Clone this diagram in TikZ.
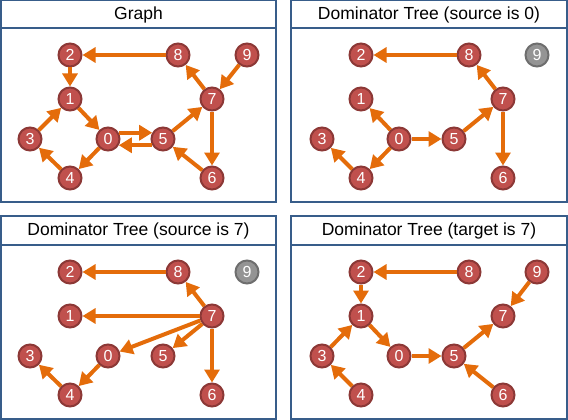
\documentclass[tikz,border=0pt]{standalone}
\usepackage{fontspec}
\setmainfont{Liberation Sans}
\usepackage{tikz}
\usetikzlibrary{arrows.meta}
\definecolor{framec}{RGB}{56,93,138}
\definecolor{vfill}{RGB}{192,80,77}
\definecolor{vline}{RGB}{140,56,54}
\definecolor{arrc}{RGB}{228,108,10}

\begin{document}
\begin{tikzpicture}[x=1pt,y=-1pt,
    vtx/.style={circle,draw=vline,fill=vfill,line width=2pt,minimum size=23pt,inner sep=0pt,
      text=white,font=\fontsize{16}{16}\selectfont},
    off/.style={vtx,draw={rgb,255:red,110;green,110;blue,110},fill={rgb,255:red,148;green,148;blue,148}},
    arr/.style={draw=arrc,line width=4pt,-{Triangle[length=13pt,width=15pt]}},
    headbox/.style={draw=framec,line width=2pt},
    bodybox/.style={draw=framec,line width=1.2pt},
    caption/.style={font=\fontsize{17.5}{20}\selectfont}]
  \useasboundingbox (0,0) rectangle (568,420);

  % Graph
  \begin{scope}
    \draw[bodybox] (1,28) rectangle (276,202);
    \draw[headbox] (1,0.5) rectangle (276,28);
    \node[caption] (ta) at (138.5,14.5) {Graph};
    \foreach \n/\x/\y in {0/108/139,1/70/99,2/70/55,3/30/139,4/70/178,5/163/139,6/212/178,7/212/99,8/178/55,9/247/55}
      \node[vtx] (a\n) at (\x,\y) {\n};
    \draw[arr] (a8) -- (a2); \draw[arr] (a2) -- (a1); \draw[arr] (a1) -- (a0);
    \draw[arr] (a3) -- (a1); \draw[arr] (a4) -- (a3); \draw[arr] (a0) -- (a4);
    \draw[arr] (a0.30) -- (a5.150); \draw[arr] (a5.210) -- (a0.330);
    \draw[arr] (a5) -- (a7); \draw[arr] (a7) -- (a8); \draw[arr] (a9) -- (a7);
    \draw[arr] (a7) -- (a6); \draw[arr] (a6) -- (a5);
  \end{scope}

  % source is 0
  \begin{scope}[shift={(291,0)}]
    \draw[bodybox] (0,28) rectangle (276,202);
    \draw[headbox] (0,0.5) rectangle (276,28);
    \node[caption] (tb) at (138,14.5) {Dominator Tree (source is 0)};
    \foreach \n/\x/\y in {0/108/139,1/70/99,2/70/55,3/31/139,4/70/178,5/163/139,6/212/178,7/212/99,8/178/55}
      \node[vtx] (b\n) at (\x,\y) {\n};
    \node[off] (b9) at (246,55) {9};
    \draw[arr] (b8) -- (b2); \draw[arr] (b7) -- (b8); \draw[arr] (b0) -- (b1);
    \draw[arr] (b0) -- (b5); \draw[arr] (b0) -- (b4); \draw[arr] (b4) -- (b3);
    \draw[arr] (b5) -- (b7); \draw[arr] (b7) -- (b6);
  \end{scope}

  % source is 7
  \begin{scope}[shift={(0,217)}]
    \draw[bodybox] (1,28) rectangle (276,202);
    \draw[headbox] (1,-1) rectangle (276,28);
    \node[caption] (tc) at (138.5,13.5) {Dominator Tree (source is 7)};
    \foreach \n/\x/\y in {0/108/139,1/70/99,2/70/55,3/30/139,4/70/178,5/163/139,6/212/178,7/212/99,8/178/55}
      \node[vtx] (c\n) at (\x,\y) {\n};
    \node[off] (c9) at (247,55) {9};
    \draw[arr] (c8) -- (c2); \draw[arr] (c7) -- (c8); \draw[arr] (c7) -- (c1);
    \draw[arr] (c7) -- (c0); \draw[arr] (c7) -- (c5); \draw[arr] (c7) -- (c6);
    \draw[arr] (c0) -- (c4); \draw[arr] (c4) -- (c3);
  \end{scope}

  % target is 7
  \begin{scope}[shift={(291,217)}]
    \draw[bodybox] (0,28) rectangle (276,202);
    \draw[headbox] (0,-1) rectangle (276,28);
    \node[caption] (td) at (138,13.5) {Dominator Tree (target is 7)};
    \foreach \n/\x/\y in {0/108/139,1/70/99,2/70/55,3/31/139,4/70/178,5/163/139,6/212/178,7/212/99,8/178/55,9/246/55}
      \node[vtx] (d\n) at (\x,\y) {\n};
    \draw[arr] (d8) -- (d2); \draw[arr] (d2) -- (d1); \draw[arr] (d3) -- (d1);
    \draw[arr] (d4) -- (d3); \draw[arr] (d1) -- (d0); \draw[arr] (d0) -- (d5);
    \draw[arr] (d6) -- (d5); \draw[arr] (d5) -- (d7); \draw[arr] (d9) -- (d7);
  \end{scope}
\end{tikzpicture}
\end{document}
